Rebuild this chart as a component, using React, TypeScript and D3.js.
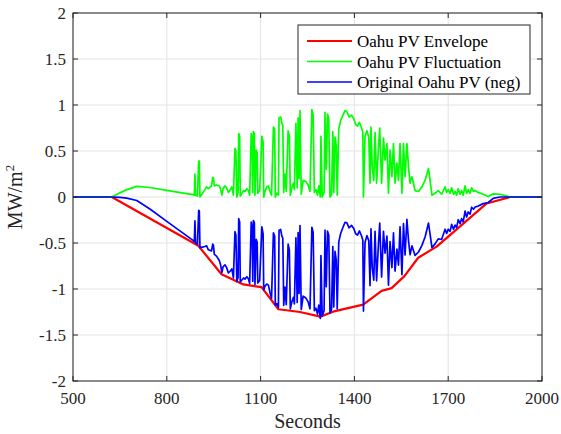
import React from 'react';
import * as d3 from 'd3';

const timeSec = [500,624,650,672,704,746,800,853,885,888,890,892,898,902,904,906,914,922,927,933,943,947,949,952,959,968,972,976,980,986,991,997,1003,1008,1013,1018,1021,1024,1028,1030,1033,1035,1040,1046,1050,1056,1061,1065,1070,1073,1075,1077,1080,1082,1086,1089,1091,1097,1104,1108,1110,1114,1120,1125,1130,1135,1141,1145,1147,1152,1157,1159,1164,1168,1171,1174,1178,1182,1188,1192,1195,1200,1205,1208,1213,1217,1220,1223,1226,1230,1236,1244,1252,1258,1264,1268,1272,1277,1282,1286,1291,1293,1297,1303,1306,1310,1314,1318,1322,1327,1331,1334,1338,1342,1345,1350,1356,1362,1370,1376,1383,1391,1398,1404,1410,1416,1423,1427,1429,1434,1440,1446,1450,1453,1457,1462,1466,1471,1477,1481,1487,1493,1498,1504,1509,1514,1520,1525,1530,1536,1541,1546,1552,1557,1562,1568,1573,1578,1584,1594,1605,1616,1626,1632,1637,1642,1648,1658,1668,1679,1690,1695,1700,1706,1711,1717,1722,1727,1732,1738,1743,1748,1754,1759,1764,1770,1775,1781,1786,1796,1812,1828,1844,1866,1887,1898,2000];

const originalPV = [0,0,-0.005,-0.012,-0.038,-0.13,-0.265,-0.395,-0.474,-0.485,-0.259,-0.493,-0.514,-0.144,-0.153,-0.551,-0.544,-0.538,-0.529,-0.574,-0.586,-0.513,-0.521,-0.624,-0.643,-0.691,-0.737,-0.822,-0.758,-0.737,-0.765,-0.825,-0.804,-0.782,-0.88,-0.377,-0.412,-0.917,-0.873,-0.236,-0.271,-0.924,-0.902,-0.88,-0.893,-0.866,-0.889,-0.941,-0.273,-0.345,-0.916,-0.257,-0.278,-0.95,-0.461,-0.493,-0.934,-0.907,-0.324,-0.402,-1.011,-0.969,-0.946,-0.958,-1.04,-1.102,-0.389,-0.427,-1.176,-1.158,-1.2,-0.361,-0.353,-0.425,-0.446,-1.177,-0.979,-1.17,-0.513,-0.575,-1.216,-1.139,-1.091,-1.162,-0.444,-1.146,-0.387,-1.049,-0.31,-1.223,-1.078,-1.094,-1.14,-1.215,-0.329,-0.382,-1.235,-1.209,-1.273,-1.176,-1.32,-0.637,-1.292,-1.235,-0.361,-0.976,-0.371,-0.416,-1.26,-1.224,-0.539,-1.195,-0.59,-0.687,-1.215,-0.491,-0.396,-0.342,-0.275,-0.281,-0.335,-0.309,-0.343,-0.399,-0.414,-0.369,-0.424,-0.471,-1.24,-0.495,-0.42,-0.474,-0.964,-0.346,-0.766,-0.904,-0.373,-0.911,-0.505,-0.285,-0.87,-0.374,-0.61,-0.424,-0.959,-0.485,-0.767,-0.391,-0.805,-0.566,-0.74,-0.324,-0.845,-0.29,-0.631,-0.244,-0.471,-0.628,-0.531,-0.635,-0.598,-0.526,-0.435,-0.353,-0.283,-0.403,-0.55,-0.51,-0.455,-0.462,-0.35,-0.395,-0.35,-0.373,-0.298,-0.351,-0.306,-0.332,-0.247,-0.29,-0.235,-0.27,-0.153,-0.218,-0.163,-0.186,-0.111,-0.133,-0.109,-0.099,-0.072,-0.06,-0.015,0,0,0,0];

const fluctuation = [0,0,0.045,0.08,0.115,0.103,0.072,0.043,0.025,0.02,0.25,0.02,0.01,0.39,0.39,0,0.04,0.08,0.11,0.09,0.12,0.21,0.21,0.12,0.13,0.12,0.09,0.02,0.09,0.12,0.1,0.05,0.08,0.11,0.02,0.53,0.5,0,0.05,0.69,0.66,0.01,0.04,0.07,0.06,0.09,0.07,0.02,0.69,0.62,0.05,0.71,0.69,0.02,0.51,0.48,0.04,0.07,0.66,0.6,0,0.06,0.11,0.12,0.06,0.02,0.76,0.74,0,0.04,0.02,0.86,0.87,0.8,0.78,0.05,0.25,0.06,0.72,0.66,0.02,0.1,0.15,0.08,0.8,0.1,0.86,0.2,0.94,0.03,0.18,0.17,0.13,0.06,0.95,0.9,0.05,0.08,0.02,0.12,0,0.66,0,0.05,0.92,0.3,0.9,0.85,0,0.03,0.71,0.05,0.65,0.55,0.02,0.74,0.83,0.88,0.94,0.93,0.87,0.89,0.85,0.79,0.77,0.81,0.75,0.7,0,0.66,0.72,0.65,0.15,0.76,0.33,0.18,0.7,0.15,0.54,0.75,0.15,0.64,0.4,0.58,0.04,0.51,0.22,0.58,0.15,0.37,0.18,0.58,0.04,0.58,0.22,0.58,0.33,0.15,0.22,0.07,0.06,0.11,0.18,0.25,0.31,0.18,0.02,0.04,0.07,0.03,0.11,0.05,0.08,0.04,0.1,0.03,0.06,0.02,0.09,0.03,0.07,0.02,0.12,0.04,0.08,0.04,0.1,0.06,0.07,0.05,0.03,0.005,0.035,0.03,0.01,0,0];

const envelopeTime = [500,624,901,975,1045,1103,1157,1226,1291,1338,1428,1487,1519,1560,1604,1663,1700,1738,1823,1898,2000];
const envelopeMW = [0,0,-0.53,-0.84,-0.95,-0.98,-1.22,-1.25,-1.3,-1.24,-1.17,-1.02,-0.99,-0.86,-0.66,-0.54,-0.43,-0.32,-0.07,0,0];

const xTicks = [500,800,1100,1400,1700,2000];
const yTicks = [-2,-1.5,-1,-0.5,0,0.5,1,1.5,2];
const legendLabels = ['Oahu PV Envelope','Oahu PV Fluctuation','Original Oahu PV (neg)'];
const seriesColors = ['#ff0000','#00ff00','#0000ff'];

const FONT = '"Liberation Serif", "DejaVu Serif", serif';

export default function App() {
  const W = 561, H = 434;
  const L = 73, R = 542, T = 13, B = 381;
  const x = d3.scaleLinear().domain([500, 2000]).range([L, R]);
  const y = d3.scaleLinear().domain([-2, 2]).range([B, T]);
  const line = d3.line<[number, number]>().x(d => x(d[0])).y(d => y(d[1]));

  const envPts = envelopeTime.map((t, i) => [t, envelopeMW[i]] as [number, number]);
  const flPts = timeSec.map((t, i) => [t, fluctuation[i]] as [number, number]);
  const orPts = timeSec.map((t, i) => [t, originalPV[i]] as [number, number]);

  const axisColor = '#262626';
  const gridColor = '#e3e3e3';
  const tick = 5;
  const ts = { fontFamily: FONT } as React.CSSProperties;

  return (
    <svg width={W} height={H} style={{ position: 'absolute', left: 0, top: 0, background: '#fff' }}>
      <rect x={0} y={0} width={W} height={H} fill="#fff" />
      {xTicks.map(v => (
        <line key={'gx' + v} x1={x(v)} x2={x(v)} y1={T} y2={B} stroke={gridColor} strokeWidth={1} />
      ))}
      {yTicks.map(v => (
        <line key={'gy' + v} x1={L} x2={R} y1={y(v)} y2={y(v)} stroke={gridColor} strokeWidth={1} />
      ))}
      <defs>
        <clipPath id="plotclip">
          <rect x={L} y={T} width={R - L} height={B - T} />
        </clipPath>
      </defs>
      <g clipPath="url(#plotclip)" fill="none" strokeLinejoin="round">
        <path d={line(envPts) || ''} stroke={seriesColors[0]} strokeWidth={2.2} />
        <path d={line(flPts) || ''} stroke={seriesColors[1]} strokeWidth={1.7} />
        <path d={line(orPts) || ''} stroke={seriesColors[2]} strokeWidth={1.7} />
      </g>
      <rect x={L} y={T} width={R - L} height={B - T} fill="none" stroke={axisColor} strokeWidth={1} />
      {xTicks.map(v => (
        <g key={'tx' + v}>
          <line x1={x(v)} x2={x(v)} y1={B} y2={B - tick} stroke={axisColor} />
          <line x1={x(v)} x2={x(v)} y1={T} y2={T + tick} stroke={axisColor} />
          <text x={x(v)} y={404} textAnchor="middle" fontSize={17} fill={axisColor} style={ts}>{String(v)}</text>
        </g>
      ))}
      {yTicks.map(v => (
        <g key={'ty' + v}>
          <line x1={L} x2={L + tick} y1={y(v)} y2={y(v)} stroke={axisColor} />
          <line x1={R} x2={R - tick} y1={y(v)} y2={y(v)} stroke={axisColor} />
          <text x={66} y={y(v) + 6} textAnchor="end" fontSize={17} fill={axisColor} style={ts}>{String(v)}</text>
        </g>
      ))}
      <text x={(L + R) / 2} y={428} textAnchor="middle" fontSize={20} fill={axisColor} style={ts}>Seconds</text>
      <text transform={`translate(22,${(T + B) / 2}) rotate(-90)`} textAnchor="middle" fontSize={20} fill={axisColor} style={ts}>
        MW/m<tspan dy={-8} fontSize={13}>2</tspan>
      </text>
      <g>
        <rect x={298} y={25} width={232} height={69} fill="#fff" stroke={axisColor} strokeWidth={1} />
        {legendLabels.map((lab, i) => (
          <g key={lab}>
            <line x1={307} x2={352} y1={41 + i * 20.5} y2={41 + i * 20.5} stroke={seriesColors[i]} strokeWidth={i === 0 ? 2.2 : 1.7} />
            <text x={357} y={41 + i * 20.5 + 6} fontSize={17} fill="#000" style={ts}>{lab}</text>
          </g>
        ))}
      </g>
    </svg>
  );
}
